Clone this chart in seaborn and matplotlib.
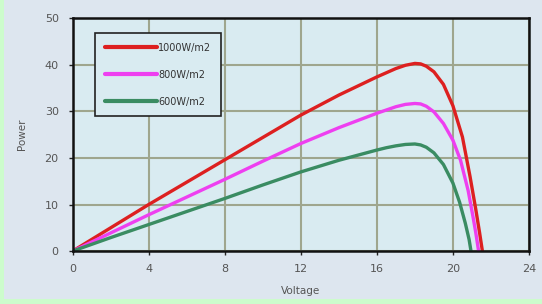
import pandas as pd
import matplotlib
matplotlib.use("Agg")
import matplotlib.pyplot as plt
import seaborn as sns
from matplotlib.patches import Rectangle

# values
v_1000 = [0, 2, 4, 6, 8, 10, 12, 14, 16, 16.5, 17, 17.5, 18, 18.3, 18.6, 19, 19.5, 20, 20.5, 20.9, 21.2, 21.4, 21.55]
p_1000 = [0, 5, 10, 14.8, 19.6, 24.4, 29.2, 33.5, 37.4, 38.3, 39.2, 39.9, 40.3, 40.2, 39.7, 38.5, 35.8, 31.2, 24.5, 16, 9, 4, 0]

v_800 = [0, 2, 4, 6, 8, 10, 12, 14, 16, 16.5, 17, 17.5, 18, 18.3, 18.6, 19, 19.5, 20, 20.4, 20.8, 21.05, 21.2, 21.35]
p_800 = [0, 3.9, 7.8, 11.6, 15.4, 19.3, 23.1, 26.5, 29.6, 30.3, 31.0, 31.5, 31.7, 31.6, 31.1, 29.9, 27.4, 23.8, 19.5, 13, 7.5, 4, 0]

v_600 = [0, 2, 4, 6, 8, 10, 12, 14, 16, 16.5, 17, 17.5, 18, 18.3, 18.6, 19, 19.5, 20, 20.35, 20.65, 20.85, 20.95]
p_600 = [0, 2.9, 5.7, 8.5, 11.3, 14.2, 17.0, 19.5, 21.7, 22.2, 22.6, 22.9, 23.0, 22.8, 22.3, 21.1, 18.6, 14.6, 10.5, 6, 2.5, 0]

labels = ["1000W/m2", "800W/m2", "600W/m2"]
colors = ["#dd2020", "#ee3ff0", "#3a8c62"]

df = pd.concat([
    pd.DataFrame({"Voltage": v_1000, "Power": p_1000, "series": labels[0]}),
    pd.DataFrame({"Voltage": v_800, "Power": p_800, "series": labels[1]}),
    pd.DataFrame({"Voltage": v_600, "Power": p_600, "series": labels[2]}),
])

sns.set_style("ticks")
plt.rcParams['font.family'] = ['DejaVu Sans']

fig = plt.figure(figsize=(5.42, 3.04), dpi=100)
fig.patch.set_facecolor("#ccfccc")
# light green strip on the left and bottom edges, blue-grey panel over the rest
fig.patches.append(Rectangle((4 / 542, 5 / 304), 1, 1, transform=fig.transFigure,
                             facecolor="#dde6ef", edgecolor="none", zorder=-10))
ax = fig.add_axes([0.134, 0.174, 0.842, 0.766])
ax.set_facecolor("#d9ebf1")

sns.lineplot(data=df, x="Voltage", y="Power", hue="series", palette=colors,
             linewidth=2.4, ax=ax, sort=False)

ax.set_xlim(0, 24)
ax.set_ylim(0, 50)
ax.set_xticks(range(0, 25, 4))
ax.set_yticks(range(0, 51, 10))
ax.grid(True, color="#9fa68e", linewidth=1.5)
ax.set_axisbelow(True)
for s in ax.spines.values():
    s.set_color("#111111")
    s.set_linewidth(1.8)
ax.tick_params(length=3, width=1, color="#222222", labelsize=8, labelcolor="#555555")
ax.tick_params(axis="x", pad=6)
ax.tick_params(axis="y", pad=7)
ax.set_xlabel("Voltage", fontsize=7.5, color="#555555", labelpad=9)
ax.set_ylabel("Power", fontsize=7.5, color="#555555", labelpad=13)

leg = ax.legend(loc="upper left", bbox_to_anchor=(0.049, 0.937), borderaxespad=0,
                fontsize=7, handlelength=5.4, handletextpad=0.1, labelspacing=1.75,
                borderpad=1.0, fancybox=False, framealpha=1)
leg.get_frame().set_facecolor("#d9ebf1")
leg.get_frame().set_edgecolor("#222222")
leg.get_frame().set_linewidth(1.2)
for t in leg.get_texts():
    t.set_color("#333333")
for line in leg.get_lines():
    line.set_linewidth(3)

fig.savefig("out.png", dpi=100, facecolor=fig.get_facecolor())
